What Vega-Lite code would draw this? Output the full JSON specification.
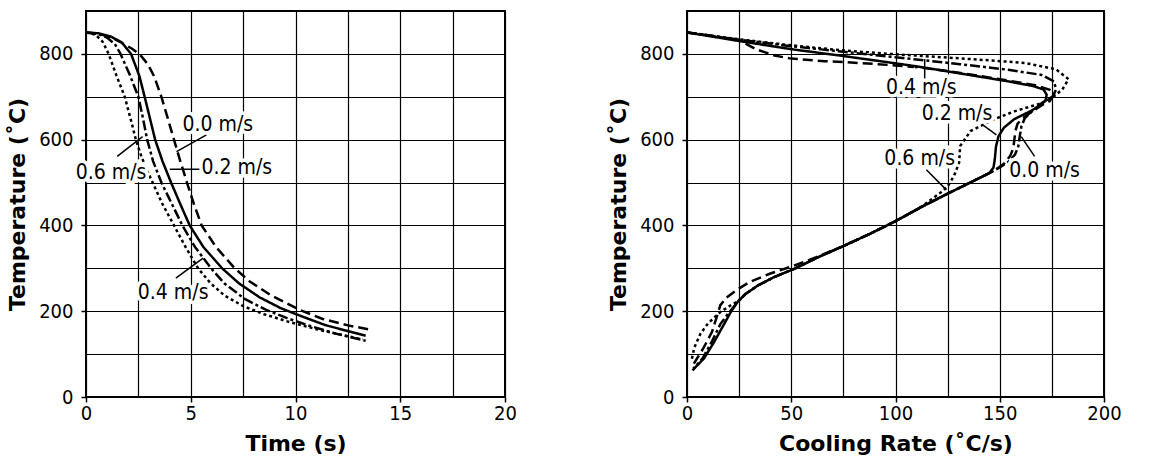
{
  "$schema": "https://vega.github.io/schema/vega-lite/v6.json",
  "background": "white",
  "padding": {"left": 5, "top": 10, "right": 5, "bottom": 2},
  "config": {
    "view": {"stroke": "black", "strokeWidth": 2},
    "concat": {"spacing": 88},
    "axis": {
      "domain": false,
      "grid": true,
      "gridColor": "black",
      "gridOpacity": 1,
      "gridWidth": 1.2,
      "tickColor": "black",
      "tickWidth": 1.5,
      "tickSize": 5,
      "labelFont": "DejaVu Sans Condensed",
      "labelFontSize": 20,
      "labelColor": "black",
      "labelFlush": false,
      "labelOverlap": false,
      "labelBound": false,
      "titleFont": "DejaVu Sans",
      "titleFontSize": 22,
      "titleFontWeight": "bold",
      "titleColor": "black"
    },
    "axisX": {"labelPadding": 1, "titlePadding": 10},
    "axisY": {"labelPadding": 8, "titlePadding": 9}
  },
  "datasets": {
    "time": [
      {"series": "0.0 m/s", "t": 0, "T": 850}, {"series": "0.0 m/s", "t": 0.6, "T": 847}, {"series": "0.0 m/s", "t": 1.2, "T": 838}, {"series": "0.0 m/s", "t": 1.7, "T": 826}, {"series": "0.0 m/s", "t": 2.2, "T": 812}, {"series": "0.0 m/s", "t": 2.6, "T": 797}, {"series": "0.0 m/s", "t": 2.95, "T": 776}, {"series": "0.0 m/s", "t": 3.25, "T": 748}, {"series": "0.0 m/s", "t": 3.6, "T": 700}, {"series": "0.0 m/s", "t": 3.9, "T": 650}, {"series": "0.0 m/s", "t": 4.2, "T": 600}, {"series": "0.0 m/s", "t": 4.5, "T": 550}, {"series": "0.0 m/s", "t": 4.82, "T": 500}, {"series": "0.0 m/s", "t": 5.15, "T": 450}, {"series": "0.0 m/s", "t": 5.52, "T": 400}, {"series": "0.0 m/s", "t": 6.2, "T": 350}, {"series": "0.0 m/s", "t": 7.1, "T": 300}, {"series": "0.0 m/s", "t": 7.8, "T": 270}, {"series": "0.0 m/s", "t": 8.8, "T": 238}, {"series": "0.0 m/s", "t": 10.2, "T": 203}, {"series": "0.0 m/s", "t": 11.3, "T": 182}, {"series": "0.0 m/s", "t": 12.5, "T": 167}, {"series": "0.0 m/s", "t": 13.7, "T": 156},
      {"series": "0.2 m/s", "t": 0, "T": 850}, {"series": "0.2 m/s", "t": 0.6, "T": 848}, {"series": "0.2 m/s", "t": 1.2, "T": 840}, {"series": "0.2 m/s", "t": 1.7, "T": 827}, {"series": "0.2 m/s", "t": 2.15, "T": 800}, {"series": "0.2 m/s", "t": 2.55, "T": 748}, {"series": "0.2 m/s", "t": 2.8, "T": 700}, {"series": "0.2 m/s", "t": 3.05, "T": 650}, {"series": "0.2 m/s", "t": 3.3, "T": 600}, {"series": "0.2 m/s", "t": 3.65, "T": 550}, {"series": "0.2 m/s", "t": 4.06, "T": 500}, {"series": "0.2 m/s", "t": 4.5, "T": 450}, {"series": "0.2 m/s", "t": 4.95, "T": 400}, {"series": "0.2 m/s", "t": 5.6, "T": 350}, {"series": "0.2 m/s", "t": 6.5, "T": 300}, {"series": "0.2 m/s", "t": 7.3, "T": 265}, {"series": "0.2 m/s", "t": 8.3, "T": 232}, {"series": "0.2 m/s", "t": 9.3, "T": 207}, {"series": "0.2 m/s", "t": 10.3, "T": 188}, {"series": "0.2 m/s", "t": 11.4, "T": 168}, {"series": "0.2 m/s", "t": 12.4, "T": 155}, {"series": "0.2 m/s", "t": 13.35, "T": 143},
      {"series": "0.4 m/s", "t": 0, "T": 850}, {"series": "0.4 m/s", "t": 0.6, "T": 846}, {"series": "0.4 m/s", "t": 1.0, "T": 838}, {"series": "0.4 m/s", "t": 1.38, "T": 823}, {"series": "0.4 m/s", "t": 1.65, "T": 800}, {"series": "0.4 m/s", "t": 2.1, "T": 750}, {"series": "0.4 m/s", "t": 2.5, "T": 700}, {"series": "0.4 m/s", "t": 2.72, "T": 650}, {"series": "0.4 m/s", "t": 2.92, "T": 600}, {"series": "0.4 m/s", "t": 3.2, "T": 550}, {"series": "0.4 m/s", "t": 3.6, "T": 500}, {"series": "0.4 m/s", "t": 4.1, "T": 450}, {"series": "0.4 m/s", "t": 4.6, "T": 400}, {"series": "0.4 m/s", "t": 5.2, "T": 350}, {"series": "0.4 m/s", "t": 5.97, "T": 300}, {"series": "0.4 m/s", "t": 6.6, "T": 265}, {"series": "0.4 m/s", "t": 7.6, "T": 228}, {"series": "0.4 m/s", "t": 8.6, "T": 203}, {"series": "0.4 m/s", "t": 9.6, "T": 184}, {"series": "0.4 m/s", "t": 10.6, "T": 167}, {"series": "0.4 m/s", "t": 11.9, "T": 148}, {"series": "0.4 m/s", "t": 13.35, "T": 131},
      {"series": "0.6 m/s", "t": 0, "T": 850}, {"series": "0.6 m/s", "t": 0.45, "T": 845}, {"series": "0.6 m/s", "t": 0.8, "T": 828}, {"series": "0.6 m/s", "t": 1.08, "T": 800}, {"series": "0.6 m/s", "t": 1.45, "T": 750}, {"series": "0.6 m/s", "t": 1.85, "T": 700}, {"series": "0.6 m/s", "t": 2.12, "T": 650}, {"series": "0.6 m/s", "t": 2.38, "T": 600}, {"series": "0.6 m/s", "t": 2.65, "T": 560}, {"series": "0.6 m/s", "t": 2.9, "T": 530}, {"series": "0.6 m/s", "t": 3.18, "T": 500}, {"series": "0.6 m/s", "t": 3.65, "T": 450}, {"series": "0.6 m/s", "t": 4.2, "T": 400}, {"series": "0.6 m/s", "t": 4.75, "T": 350}, {"series": "0.6 m/s", "t": 5.35, "T": 300}, {"series": "0.6 m/s", "t": 5.95, "T": 265}, {"series": "0.6 m/s", "t": 6.6, "T": 237}, {"series": "0.6 m/s", "t": 7.5, "T": 212}, {"series": "0.6 m/s", "t": 8.5, "T": 193}, {"series": "0.6 m/s", "t": 9.7, "T": 175}, {"series": "0.6 m/s", "t": 11.0, "T": 158}, {"series": "0.6 m/s", "t": 12.2, "T": 145}, {"series": "0.6 m/s", "t": 13.2, "T": 134}
    ],
    "rate": [
      {"series": "0.0 m/s", "r": 0, "T": 850}, {"series": "0.0 m/s", "r": 12, "T": 842}, {"series": "0.0 m/s", "r": 25, "T": 832}, {"series": "0.0 m/s", "r": 33, "T": 811}, {"series": "0.0 m/s", "r": 42, "T": 796}, {"series": "0.0 m/s", "r": 50, "T": 789}, {"series": "0.0 m/s", "r": 66, "T": 783}, {"series": "0.0 m/s", "r": 75, "T": 781}, {"series": "0.0 m/s", "r": 89, "T": 777}, {"series": "0.0 m/s", "r": 100, "T": 773}, {"series": "0.0 m/s", "r": 112, "T": 768}, {"series": "0.0 m/s", "r": 125, "T": 760}, {"series": "0.0 m/s", "r": 140, "T": 749}, {"series": "0.0 m/s", "r": 155, "T": 737}, {"series": "0.0 m/s", "r": 167, "T": 727}, {"series": "0.0 m/s", "r": 174, "T": 716}, {"series": "0.0 m/s", "r": 176, "T": 705}, {"series": "0.0 m/s", "r": 174, "T": 690}, {"series": "0.0 m/s", "r": 170, "T": 680}, {"series": "0.0 m/s", "r": 165, "T": 664}, {"series": "0.0 m/s", "r": 161, "T": 650}, {"series": "0.0 m/s", "r": 158.5, "T": 637}, {"series": "0.0 m/s", "r": 157.5, "T": 620}, {"series": "0.0 m/s", "r": 157, "T": 600}, {"series": "0.0 m/s", "r": 156.5, "T": 580}, {"series": "0.0 m/s", "r": 155, "T": 562}, {"series": "0.0 m/s", "r": 152, "T": 544}, {"series": "0.0 m/s", "r": 148, "T": 530}, {"series": "0.0 m/s", "r": 145, "T": 522}, {"series": "0.0 m/s", "r": 135, "T": 498}, {"series": "0.0 m/s", "r": 125, "T": 474}, {"series": "0.0 m/s", "r": 112, "T": 442}, {"series": "0.0 m/s", "r": 100, "T": 410}, {"series": "0.0 m/s", "r": 88, "T": 381}, {"series": "0.0 m/s", "r": 75, "T": 352}, {"series": "0.0 m/s", "r": 62, "T": 326}, {"series": "0.0 m/s", "r": 50, "T": 304}, {"series": "0.0 m/s", "r": 40, "T": 288}, {"series": "0.0 m/s", "r": 30, "T": 268}, {"series": "0.0 m/s", "r": 24, "T": 250}, {"series": "0.0 m/s", "r": 19, "T": 232}, {"series": "0.0 m/s", "r": 16, "T": 214}, {"series": "0.0 m/s", "r": 15, "T": 198}, {"series": "0.0 m/s", "r": 13.5, "T": 175}, {"series": "0.0 m/s", "r": 12, "T": 152}, {"series": "0.0 m/s", "r": 8, "T": 115}, {"series": "0.0 m/s", "r": 3.3, "T": 78},
      {"series": "0.2 m/s", "r": 0, "T": 850}, {"series": "0.2 m/s", "r": 25, "T": 830}, {"series": "0.2 m/s", "r": 50, "T": 811}, {"series": "0.2 m/s", "r": 75, "T": 795}, {"series": "0.2 m/s", "r": 100, "T": 778}, {"series": "0.2 m/s", "r": 110, "T": 771}, {"series": "0.2 m/s", "r": 124, "T": 760}, {"series": "0.2 m/s", "r": 139, "T": 748}, {"series": "0.2 m/s", "r": 154, "T": 736}, {"series": "0.2 m/s", "r": 166, "T": 725}, {"series": "0.2 m/s", "r": 171, "T": 717}, {"series": "0.2 m/s", "r": 172.5, "T": 705}, {"series": "0.2 m/s", "r": 172, "T": 692}, {"series": "0.2 m/s", "r": 170, "T": 682}, {"series": "0.2 m/s", "r": 165, "T": 667}, {"series": "0.2 m/s", "r": 157, "T": 648}, {"series": "0.2 m/s", "r": 152, "T": 628}, {"series": "0.2 m/s", "r": 149.4, "T": 608}, {"series": "0.2 m/s", "r": 148.2, "T": 584}, {"series": "0.2 m/s", "r": 147.6, "T": 553}, {"series": "0.2 m/s", "r": 147, "T": 535}, {"series": "0.2 m/s", "r": 145, "T": 522}, {"series": "0.2 m/s", "r": 135, "T": 498}, {"series": "0.2 m/s", "r": 125, "T": 474}, {"series": "0.2 m/s", "r": 112, "T": 442}, {"series": "0.2 m/s", "r": 100, "T": 410}, {"series": "0.2 m/s", "r": 88, "T": 381}, {"series": "0.2 m/s", "r": 75, "T": 352}, {"series": "0.2 m/s", "r": 62, "T": 324}, {"series": "0.2 m/s", "r": 52, "T": 300}, {"series": "0.2 m/s", "r": 42, "T": 280}, {"series": "0.2 m/s", "r": 34, "T": 260}, {"series": "0.2 m/s", "r": 28, "T": 240}, {"series": "0.2 m/s", "r": 24, "T": 220}, {"series": "0.2 m/s", "r": 21, "T": 198}, {"series": "0.2 m/s", "r": 17, "T": 163}, {"series": "0.2 m/s", "r": 12.5, "T": 124}, {"series": "0.2 m/s", "r": 8, "T": 89}, {"series": "0.2 m/s", "r": 2.6, "T": 62},
      {"series": "0.4 m/s", "r": 0, "T": 850}, {"series": "0.4 m/s", "r": 25, "T": 833}, {"series": "0.4 m/s", "r": 50, "T": 818}, {"series": "0.4 m/s", "r": 75, "T": 805}, {"series": "0.4 m/s", "r": 100, "T": 792}, {"series": "0.4 m/s", "r": 110, "T": 787}, {"series": "0.4 m/s", "r": 131, "T": 776}, {"series": "0.4 m/s", "r": 154, "T": 763}, {"series": "0.4 m/s", "r": 170, "T": 751}, {"series": "0.4 m/s", "r": 176, "T": 736}, {"series": "0.4 m/s", "r": 177, "T": 717}, {"series": "0.4 m/s", "r": 175.5, "T": 701}, {"series": "0.4 m/s", "r": 170, "T": 685}, {"series": "0.4 m/s", "r": 165, "T": 664}, {"series": "0.4 m/s", "r": 162, "T": 650}, {"series": "0.4 m/s", "r": 160.4, "T": 631}, {"series": "0.4 m/s", "r": 159.6, "T": 608}, {"series": "0.4 m/s", "r": 158.9, "T": 584}, {"series": "0.4 m/s", "r": 157.3, "T": 565}, {"series": "0.4 m/s", "r": 154.3, "T": 549}, {"series": "0.4 m/s", "r": 150, "T": 535}, {"series": "0.4 m/s", "r": 145, "T": 522}, {"series": "0.4 m/s", "r": 135, "T": 498}, {"series": "0.4 m/s", "r": 125, "T": 474}, {"series": "0.4 m/s", "r": 112, "T": 442}, {"series": "0.4 m/s", "r": 100, "T": 410}, {"series": "0.4 m/s", "r": 88, "T": 381}, {"series": "0.4 m/s", "r": 75, "T": 352}, {"series": "0.4 m/s", "r": 62, "T": 324}, {"series": "0.4 m/s", "r": 52, "T": 300}, {"series": "0.4 m/s", "r": 42, "T": 280}, {"series": "0.4 m/s", "r": 34, "T": 260}, {"series": "0.4 m/s", "r": 28, "T": 240}, {"series": "0.4 m/s", "r": 24, "T": 220}, {"series": "0.4 m/s", "r": 20, "T": 196}, {"series": "0.4 m/s", "r": 16, "T": 170}, {"series": "0.4 m/s", "r": 12, "T": 130}, {"series": "0.4 m/s", "r": 7.5, "T": 90}, {"series": "0.4 m/s", "r": 3, "T": 66},
      {"series": "0.6 m/s", "r": 0, "T": 850}, {"series": "0.6 m/s", "r": 25, "T": 834}, {"series": "0.6 m/s", "r": 50, "T": 820}, {"series": "0.6 m/s", "r": 75, "T": 808}, {"series": "0.6 m/s", "r": 100, "T": 799}, {"series": "0.6 m/s", "r": 110, "T": 796}, {"series": "0.6 m/s", "r": 139, "T": 787}, {"series": "0.6 m/s", "r": 162, "T": 779}, {"series": "0.6 m/s", "r": 177, "T": 764}, {"series": "0.6 m/s", "r": 183, "T": 741}, {"series": "0.6 m/s", "r": 180, "T": 717}, {"series": "0.6 m/s", "r": 176, "T": 701}, {"series": "0.6 m/s", "r": 170, "T": 685}, {"series": "0.6 m/s", "r": 157, "T": 666}, {"series": "0.6 m/s", "r": 147, "T": 647}, {"series": "0.6 m/s", "r": 136, "T": 620}, {"series": "0.6 m/s", "r": 131, "T": 585}, {"series": "0.6 m/s", "r": 130.5, "T": 546}, {"series": "0.6 m/s", "r": 128, "T": 515}, {"series": "0.6 m/s", "r": 125, "T": 491}, {"series": "0.6 m/s", "r": 122, "T": 478}, {"series": "0.6 m/s", "r": 112, "T": 442}, {"series": "0.6 m/s", "r": 100, "T": 410}, {"series": "0.6 m/s", "r": 88, "T": 381}, {"series": "0.6 m/s", "r": 75, "T": 352}, {"series": "0.6 m/s", "r": 62, "T": 324}, {"series": "0.6 m/s", "r": 52, "T": 300}, {"series": "0.6 m/s", "r": 42, "T": 280}, {"series": "0.6 m/s", "r": 34, "T": 260}, {"series": "0.6 m/s", "r": 28, "T": 240}, {"series": "0.6 m/s", "r": 24, "T": 222}, {"series": "0.6 m/s", "r": 21, "T": 214}, {"series": "0.6 m/s", "r": 16, "T": 198}, {"series": "0.6 m/s", "r": 13, "T": 185}, {"series": "0.6 m/s", "r": 10, "T": 171}, {"series": "0.6 m/s", "r": 6.5, "T": 148}, {"series": "0.6 m/s", "r": 3.5, "T": 115}, {"series": "0.6 m/s", "r": 2.3, "T": 88}
    ],
    "timeLabels": [
      {"label": "0.0 m/s", "x": 6.29, "y": 634},
      {"label": "0.2 m/s", "x": 7.2, "y": 533},
      {"label": "0.6 m/s", "x": 1.2, "y": 522},
      {"label": "0.4 m/s", "x": 4.16, "y": 242}
    ],
    "timeLeaders": [
      {"x": 5.75, "y": 611, "x2": 4.32, "y2": 572},
      {"x": 4.0, "y": 531, "x2": 5.43, "y2": 531},
      {"x": 1.49, "y": 561, "x2": 2.7, "y2": 607},
      {"x": 4.29, "y": 277, "x2": 5.59, "y2": 324}
    ],
    "rateLabels": [
      {"label": "0.4 m/s", "x": 112.4, "y": 720},
      {"label": "0.2 m/s", "x": 129.5, "y": 661},
      {"label": "0.6 m/s", "x": 111.6, "y": 554},
      {"label": "0.0 m/s", "x": 171.5, "y": 526}
    ],
    "rateLeaders": [
      {"x": 114, "y": 738, "x2": 114, "y2": 788},
      {"x": 142, "y": 634, "x2": 148.4, "y2": 611},
      {"x": 114.8, "y": 530, "x2": 124.4, "y2": 483},
      {"x": 166.7, "y": 561, "x2": 160.3, "y2": 607}
    ]
  },
  "hconcat": [
    {
      "width": 419,
      "height": 386,
      "encoding": {
        "x": {"type": "quantitative", "scale": {"domain": [0, 20], "nice": false, "zero": false},
          "axis": {"title": "Time (s)", "values": [0, 2.5, 5, 7.5, 10, 12.5, 15, 17.5, 20],
            "labelExpr": "datum.value % 5 === 0 ? datum.label : ''",
            "tickOpacity": {"condition": {"test": "datum.value % 5 === 0", "value": 1}, "value": 0}}},
        "y": {"type": "quantitative", "scale": {"domain": [0, 900], "nice": false, "zero": false},
          "axis": {"title": "Temperature (˚C)", "values": [0, 100, 200, 300, 400, 500, 600, 700, 800],
            "labelExpr": "datum.value % 200 === 0 ? datum.label : ''",
            "tickOpacity": {"condition": {"test": "datum.value % 200 === 0", "value": 1}, "value": 0}}}
      },
      "layer": [
        {
          "data": {"name": "time"},
          "mark": {"type": "line", "color": "black", "strokeWidth": 2.5},
          "encoding": {
            "x": {"field": "t", "type": "quantitative"},
            "y": {"field": "T", "type": "quantitative"},
            "strokeDash": {"field": "series", "type": "nominal", "legend": null,
              "scale": {"domain": ["0.0 m/s", "0.2 m/s", "0.4 m/s", "0.6 m/s"], "range": [[10, 5], [1, 0], [10, 3, 3, 3], [3, 3]]}},
            "order": {"value": null}
          }
        },
        {
          "data": {"name": "timeLeaders"},
          "mark": {"type": "rule", "color": "black", "strokeWidth": 1.5},
          "encoding": {
            "x": {"field": "x", "type": "quantitative"},
            "y": {"field": "y", "type": "quantitative"},
            "x2": {"field": "x2"},
            "y2": {"field": "y2"}
          }
        },
        {
          "data": {"name": "timeLabels"},
          "mark": {"type": "text", "font": "DejaVu Sans Condensed", "fontSize": 21, "fill": "white", "stroke": "white", "strokeWidth": 7, "align": "center", "baseline": "middle"},
          "encoding": {
            "x": {"field": "x", "type": "quantitative"},
            "y": {"field": "y", "type": "quantitative"},
            "text": {"field": "label"}
          }
        },
        {
          "data": {"name": "timeLabels"},
          "mark": {"type": "text", "font": "DejaVu Sans Condensed", "fontSize": 21, "color": "black", "align": "center", "baseline": "middle"},
          "encoding": {
            "x": {"field": "x", "type": "quantitative"},
            "y": {"field": "y", "type": "quantitative"},
            "text": {"field": "label"}
          }
        }
      ]
    },
    {
      "width": 417,
      "height": 386,
      "encoding": {
        "x": {"type": "quantitative", "scale": {"domain": [0, 200], "nice": false, "zero": false},
          "axis": {"title": "Cooling Rate (˚C/s)", "values": [0, 25, 50, 75, 100, 125, 150, 175, 200],
            "labelExpr": "datum.value % 50 === 0 ? datum.label : ''",
            "tickOpacity": {"condition": {"test": "datum.value % 50 === 0", "value": 1}, "value": 0}}},
        "y": {"type": "quantitative", "scale": {"domain": [0, 900], "nice": false, "zero": false},
          "axis": {"title": "Temperature (˚C)", "values": [0, 100, 200, 300, 400, 500, 600, 700, 800],
            "labelExpr": "datum.value % 200 === 0 ? datum.label : ''",
            "tickOpacity": {"condition": {"test": "datum.value % 200 === 0", "value": 1}, "value": 0}}}
      },
      "layer": [
        {
          "data": {"name": "rate"},
          "mark": {"type": "line", "color": "black", "strokeWidth": 2.5},
          "encoding": {
            "x": {"field": "r", "type": "quantitative"},
            "y": {"field": "T", "type": "quantitative"},
            "strokeDash": {"field": "series", "type": "nominal", "legend": null,
              "scale": {"domain": ["0.0 m/s", "0.2 m/s", "0.4 m/s", "0.6 m/s"], "range": [[10, 5], [1, 0], [10, 3, 3, 3], [3, 3]]}},
            "order": {"value": null}
          }
        },
        {
          "data": {"name": "rateLeaders"},
          "mark": {"type": "rule", "color": "black", "strokeWidth": 1.5},
          "encoding": {
            "x": {"field": "x", "type": "quantitative"},
            "y": {"field": "y", "type": "quantitative"},
            "x2": {"field": "x2"},
            "y2": {"field": "y2"}
          }
        },
        {
          "data": {"name": "rateLabels"},
          "mark": {"type": "text", "font": "DejaVu Sans Condensed", "fontSize": 21, "fill": "white", "stroke": "white", "strokeWidth": 7, "align": "center", "baseline": "middle"},
          "encoding": {
            "x": {"field": "x", "type": "quantitative"},
            "y": {"field": "y", "type": "quantitative"},
            "text": {"field": "label"}
          }
        },
        {
          "data": {"name": "rateLabels"},
          "mark": {"type": "text", "font": "DejaVu Sans Condensed", "fontSize": 21, "color": "black", "align": "center", "baseline": "middle"},
          "encoding": {
            "x": {"field": "x", "type": "quantitative"},
            "y": {"field": "y", "type": "quantitative"},
            "text": {"field": "label"}
          }
        }
      ]
    }
  ]
}
